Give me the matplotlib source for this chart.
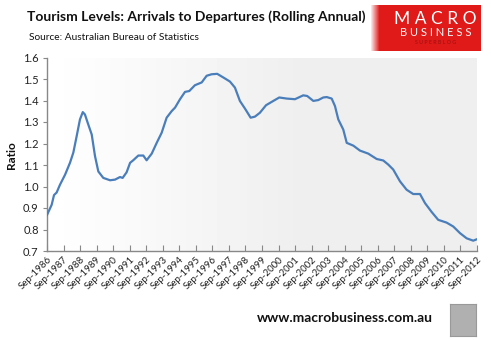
import numpy as np
import matplotlib
matplotlib.use("Agg")
import matplotlib.pyplot as plt

# ---- data (decimal year, ratio) ----
years = [1986.67, 1986.95, 1987.09, 1987.25, 1987.45, 1987.76, 1988.06, 1988.26,
         1988.46, 1988.66, 1988.83, 1988.96, 1989.16, 1989.37, 1989.57, 1989.77,
         1990.07, 1990.48, 1990.78, 1991.08, 1991.24, 1991.48, 1991.69, 1991.88,
         1992.19, 1992.49, 1992.69, 1993.00, 1993.30, 1993.60, 1993.90, 1994.21,
         1994.41, 1994.71, 1995.01, 1995.27, 1995.61, 1996.02, 1996.32, 1996.62,
         1996.96, 1997.33, 1997.73, 1998.03, 1998.33, 1998.64, 1998.98, 1999.24,
         1999.54, 1999.91, 2000.35, 2000.71, 2001.16, 2001.66, 2002.16, 2002.40,
         2002.77, 2003.07, 2003.37, 2003.58, 2003.88, 2004.08, 2004.28, 2004.58,
         2004.79, 2005.19, 2005.59, 2006.09, 2006.60, 2007.00, 2007.30, 2007.60,
         2008.01, 2008.41, 2008.81, 2009.22, 2009.52, 2009.93, 2010.32, 2010.83,
         2011.23, 2011.64, 2012.04, 2012.44, 2012.67]
ratio = [0.868, 0.915, 0.960, 0.972, 1.008, 1.055, 1.111, 1.158,
         1.234, 1.312, 1.346, 1.335, 1.289, 1.242, 1.141, 1.070,
         1.040, 1.029, 1.032, 1.044, 1.040, 1.066, 1.110, 1.122,
         1.144, 1.144, 1.122, 1.153, 1.203, 1.250, 1.320, 1.351,
         1.367, 1.406, 1.440, 1.444, 1.471, 1.484, 1.515, 1.522,
         1.524, 1.507, 1.488, 1.460, 1.398, 1.362, 1.320, 1.325,
         1.343, 1.378, 1.398, 1.414, 1.409, 1.406, 1.424, 1.421,
         1.398, 1.402, 1.414, 1.416, 1.409, 1.374, 1.312, 1.265,
         1.203, 1.190, 1.167, 1.153, 1.128, 1.121, 1.102, 1.079,
         1.024, 0.985, 0.965, 0.965, 0.923, 0.881, 0.845, 0.832,
         0.814, 0.783, 0.759, 0.748, 0.755]
tick_years = list(range(1986, 2013))
tick_labels = [f"Sep-{y}" for y in tick_years]
y_ticks = [0.7, 0.8, 0.9, 1.0, 1.1, 1.2, 1.3, 1.4, 1.5, 1.6]

plt.rcParams['font.family'] = ['Lato', 'DejaVu Sans']

W, H = 491, 340
fig = plt.figure(figsize=(W / 100, H / 100), dpi=100)
fig.patch.set_facecolor('white')

ax = fig.add_axes([47 / W, 1 - 251 / H, (477 - 47) / W, (251 - 57.5) / H])

x0 = 1986 + 8 / 12
x1 = 2012 + 8 / 12
# background gradient
grad = np.concatenate([np.linspace(1.0, 0.935, 60), np.full(40, 0.935)])
img = np.tile(grad, (2, 1))
ax.imshow(img, cmap='gray', vmin=0, vmax=1, aspect='auto',
          extent=[x0, x1, 0.7, 1.6], zorder=0, interpolation='bilinear')

ax.plot(years, ratio, color='#4a7ebb', lw=1.6, zorder=3, solid_joinstyle='round')

ax.set_xlim(x0, x1)
ax.set_ylim(0.7, 1.6)
ax.set_xticks([t + 8 / 12 for t in tick_years])
ax.set_xticklabels(tick_labels, rotation=45, ha='right', rotation_mode='anchor',
                   fontsize=7.0, color='#222222')
ax.set_yticks(y_ticks)
ax.set_yticklabels([f"{v:.1f}" for v in y_ticks], fontsize=8, color='#222222')
ax.tick_params(axis='x', direction='in', length=4, color='#888888', pad=3)
ax.tick_params(axis='y', direction='out', length=3, color='#888888', pad=3)
for s in ['top', 'right']:
    ax.spines[s].set_visible(False)
for s in ['left', 'bottom']:
    ax.spines[s].set_color('#888888')
    ax.spines[s].set_linewidth(1.0)

fig.text(11 / W, 1 - 155 / H, 'Ratio', fontsize=8.5, fontweight='bold',
         rotation=90, ha='center', va='center', color='#111111')

# titles
fig.text(27 / W, 1 - 17 / H, 'Tourism Levels: Arrivals to Departures (Rolling Annual)',
         fontsize=10.0, fontweight='bold', color='#111111', va='center', ha='left')
fig.text(29 / W, 1 - 38 / H, 'Source: Australian Bureau of Statistics',
         fontsize=7.3, color='#111111', va='center', ha='left')

# logo
lax = fig.add_axes([370 / W, 1 - 51 / H, 111 / W, 46 / H])
lax.set_axis_off()
lg = np.linspace(0, 1, 100)
red = np.zeros((2, 100, 3))
fade = np.clip(lg / 0.08, 0, 1)
red[..., 0] = 1.0 * (1 - fade) + 0.88 * fade
red[..., 1] = 1.0 * (1 - fade) + 0.10 * fade
red[..., 2] = 1.0 * (1 - fade) + 0.10 * fade
lax.imshow(red, aspect='auto', extent=[0, 1, 0, 1])
lax.set_xlim(0, 1)
lax.set_ylim(0, 1)
lax.text(0.59, 0.70, 'M A C R O', color='white', fontsize=12.5, ha='center', va='center',
         fontweight='normal')
lax.text(0.59, 0.40, 'B U S I N E S S', color='white', fontsize=8, ha='center',
         va='center', fontweight='normal')
lax.text(0.59, 0.18, 'S U P E R B L O G', color='#9b1010', fontsize=3.8, ha='center',
         va='center')

# footer
fig.text(433 / W, 1 - 318 / H, 'www.macrobusiness.com.au', fontsize=10.0,
         fontweight='bold', color='#111111', ha='right', va='center')
wax = fig.add_axes([450 / W, 1 - 336 / H, 26 / W, 32 / H])
wax.set_xticks([])
wax.set_yticks([])
wax.set_facecolor('#b0b0b0')
for s in wax.spines.values():
    s.set_color('#999999')

fig.savefig('out.png', dpi=100)
